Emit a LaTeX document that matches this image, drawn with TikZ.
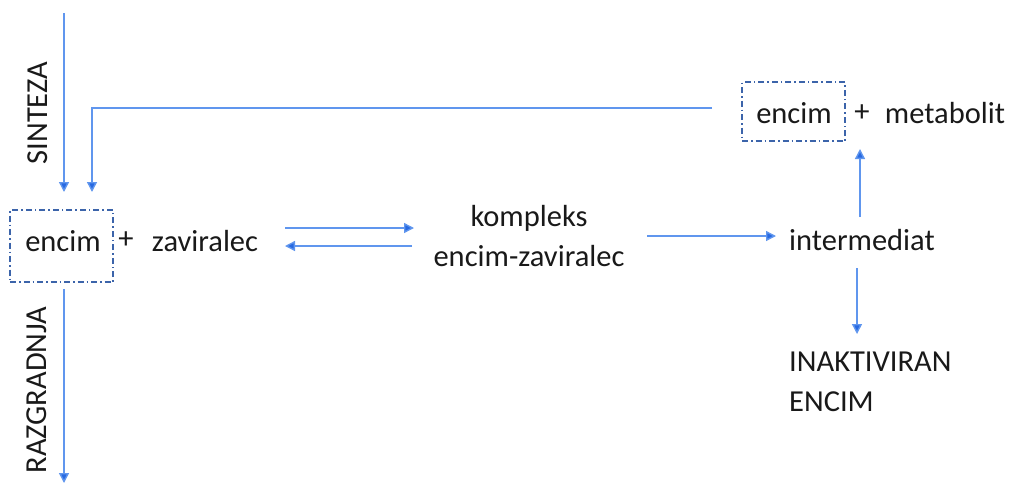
\documentclass[tikz,border=0pt]{standalone}
\usepackage{fontspec}
\setmainfont{Carlito}
\usetikzlibrary{arrows.meta}
\definecolor{ln}{RGB}{96,150,238}
\definecolor{tip}{RGB}{40,105,225}
\definecolor{bx}{RGB}{60,100,170}
\tikzset{
  lbl/.style={inner sep=0pt, font=\fontsize{30.5}{37}\selectfont, text=black!90},
  conn/.style={draw=ln, line width=1.4pt, -{Triangle[length=10pt,width=10pt,fill=tip]}},
  plain/.style={draw=ln, line width=1.4pt},
  ebox/.style={draw=bx, line width=1.4pt, dash pattern=on 6pt off 3pt on 1.5pt off 3pt}
}
\begin{document}
\begin{tikzpicture}[x=1pt,y=-1pt]
\useasboundingbox (0,0) rectangle (1011,483);
% boxes
\node[ebox, minimum width=103pt, minimum height=72pt, inner sep=0pt] (b1) at (61.5,246) {};
\node[ebox, minimum width=103pt, minimum height=59pt, inner sep=0pt] (b2) at (793.5,111.5) {};
% texts
\node[lbl] (e1) at (63,241) {encim};
\node[lbl] (p1) at (126,240) {+};
\node[lbl] (z) at (205,241) {zaviralec};
\node[lbl] (k1) at (529,218) {kompleks};
\node[lbl] (k2) at (529,256) {encim-zaviralec};
\node[lbl] (im) at (862,240) {intermediat};
\node[lbl, anchor=west] (in1) at (789,362) {INAKTIVIRAN};
\node[lbl, anchor=west] (in2) at (789,402) {ENCIM};
\node[lbl] (e2) at (794,113) {encim};
\node[lbl] (p2) at (862,113) {+};
\node[lbl] (mb) at (945,113) {metabolit};
\node[lbl, rotate=90] (sin) at (38,113) {SINTEZA};
\node[lbl, rotate=90] (raz) at (37,390) {RAZGRADNJA};
% coordinates
\coordinate (s0) at (64,13);
\coordinate (s1) at (64,192);
\coordinate (f0) at (712,108);
\coordinate (f1) at (92,108);
\coordinate (f2) at (92,192);
\coordinate (r0) at (64,289);
\coordinate (r1) at (64,483);
\coordinate (a0) at (285,228);
\coordinate (a1) at (414,228);
\coordinate (c0) at (412,246);
\coordinate (c1) at (285,246);
\coordinate (d0) at (647,236);
\coordinate (d1) at (776,236);
\coordinate (u0) at (860,217);
\coordinate (u1) at (860,149);
\coordinate (w0) at (857,268);
\coordinate (w1) at (857,334);
% connectors
\draw[conn] (s0) -- (s1);
\draw[conn] (f0) -- (f1) -- (f2);
\draw[conn] (r0) -- (r1);
\draw[conn] (a0) -- (a1);
\draw[conn] (c0) -- (c1);
\draw[conn] (d0) -- (d1);
\draw[conn] (u0) -- (u1);
\draw[conn] (w0) -- (w1);
\end{tikzpicture}
\end{document}
